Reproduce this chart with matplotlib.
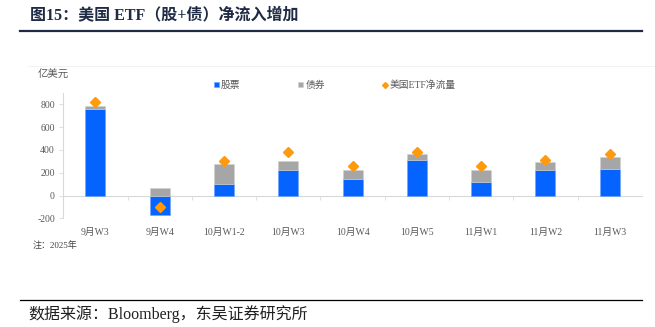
import matplotlib
matplotlib.use("Agg")
import matplotlib.pyplot as plt
from matplotlib.lines import Line2D
import numpy as np

plt.rcParams['font.family'] = ['Liberation Serif', 'Noto Sans CJK SC']
plt.rcParams['axes.unicode_minus'] = False

weeks = ["9月W3", "9月W4", "10月W1-2", "10月W3", "10月W4",
         "10月W5", "11月W1", "11月W2", "11月W3"]
equity = [756, -167, 105, 228, 141, 310, 120, 222, 237]
bond = [32, 67, 176, 71, 87, 53, 108, 68, 102]
net_flow = [817, -105, 301, 383, 257, 380, 260, 313, 363]
y_ticks = [-200, 0, 200, 400, 600, 800]

BLUE = "#0563FF"
GREY = "#A6A6A6"
ORANGE = "#FF9A0F"
AXC = "#D9D9D9"
TXT = "#595959"

fig = plt.figure(figsize=(6.55, 3.27), dpi=100)
ax = fig.add_axes([0.0966, 0.3324, 0.8834, 0.3832])

x = np.arange(len(weeks))
eq = np.array(equity, dtype=float)
bd = np.array(bond, dtype=float)
bond_base = np.where(eq > 0, eq, 0)

w = 0.31
b1 = ax.bar(x, eq, width=w, color=BLUE, edgecolor="#6FA2FF", linewidth=0.4, label="股票", zorder=3)
b2 = ax.bar(x, bd, width=w, bottom=bond_base, color=GREY, edgecolor="#D0D0D0", linewidth=0.4, label="债券", zorder=3)
ax.plot(x, net_flow, linestyle="none", marker="D", markersize=5, color=ORANGE, zorder=4, label="美国ETF净流量")

ax.set_xlim(-0.5, len(weeks) - 0.5)
ax.set_ylim(-200, 900)
ax.set_yticks(y_ticks)
ax.tick_params(axis="y", labelsize=7, colors=TXT, length=3, width=0.6, color=AXC, pad=3)
for lbl in ax.get_yticklabels():
    lbl.set_color(TXT)

ax.spines["top"].set_visible(False)
ax.spines["right"].set_visible(False)
ax.spines["left"].set_color(AXC)
ax.spines["left"].set_linewidth(0.8)
ax.spines["bottom"].set_position(("data", 0))
ax.spines["bottom"].set_color(AXC)
ax.spines["bottom"].set_linewidth(0.8)

ax.set_xticks(x)
ax.set_xticklabels(weeks)
ax.set_xticks(np.arange(0.5, len(weeks) - 0.5, 1.0), minor=True)
ax.tick_params(axis="x", which="major", length=0, labelsize=7, labelcolor=TXT, pad=23)
ax.tick_params(axis="x", which="minor", length=3, width=0.6, color=AXC, direction="out")

fig.text(0.058, 0.77, "亿美元", fontsize=7.5, color=TXT, ha="left", va="center")

handles = [b1, b2, Line2D([], [], linestyle="none", marker="D", markersize=3, color=ORANGE)]
leg = fig.legend(handles, ["股票", "债券", "美国ETF净流量"], loc="center left",
                 bbox_to_anchor=(0.313, 0.74), ncol=3, frameon=False, fontsize=7,
                 handlelength=0.5, handleheight=0.5, handletextpad=0.2, columnspacing=6.0,
                 labelcolor=TXT)

# outer chart box edge
fig.add_artist(Line2D([0.043, 1.0], [0.798, 0.798], color="#F0F0F0", linewidth=0.6))

fig.text(0.046, 0.952, "图15：美国 ETF（股+债）净流入增加", fontsize=11.5, fontweight="bold",
         color="#1F2A44", ha="left", va="center")
fig.add_artist(Line2D([0.031, 0.98], [0.905, 0.905], color="#1F2A44", linewidth=1.6))

fig.text(0.05, 0.25, "注：2025年", fontsize=6.5, color="#404040", ha="left", va="center")

fig.add_artist(Line2D([0.031, 0.98], [0.083, 0.083], color="#000000", linewidth=0.9))
fig.text(0.044, 0.04, "数据来源：Bloomberg，东吴证券研究所", fontsize=11.5, color="#202020",
         ha="left", va="center")

fig.savefig("out.png", dpi=100)
